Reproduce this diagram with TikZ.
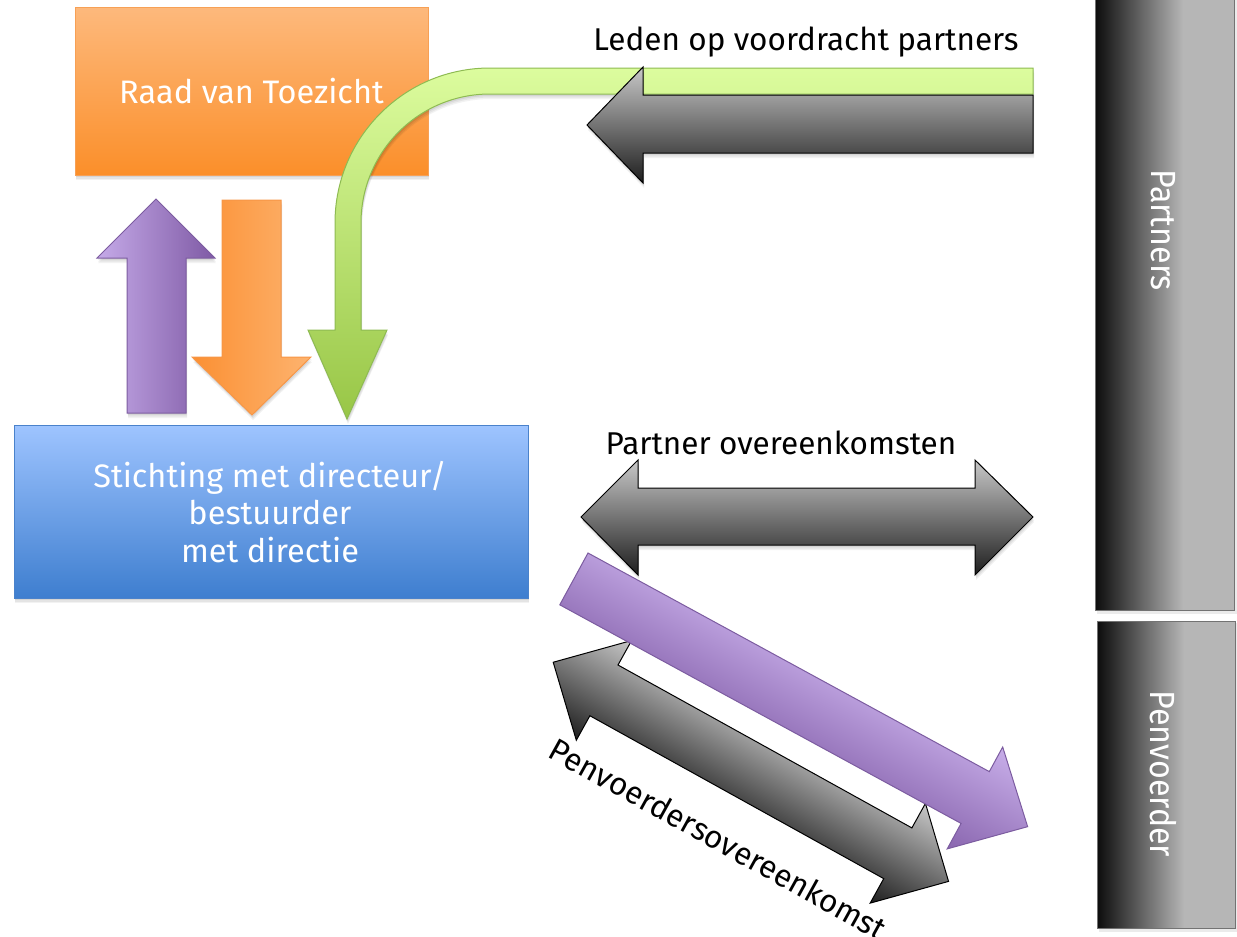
\documentclass[tikz,border=0pt]{standalone}
\usepackage{fontspec}
\setmainfont{Fira Sans}

% colour palette
\definecolor{orgTop}{HTML}{FDB97C}
\definecolor{orgBot}{HTML}{FB8F2A}
\definecolor{orgLine}{HTML}{F7A055}
\definecolor{bluTop}{HTML}{9EC4FF}
\definecolor{bluBot}{HTML}{3E7ECF}
\definecolor{bluLine}{HTML}{4A82CB}
\definecolor{purLight}{HTML}{C5AAE8}
\definecolor{purDark}{HTML}{7F5AA5}
\definecolor{purLine}{HTML}{7C5CA0}
\definecolor{orArrDark}{HTML}{FB9033}
\definecolor{orArrLight}{HTML}{FDB36F}
\definecolor{orArrLine}{HTML}{F79646}
\definecolor{grnTop}{HTML}{DCFC9E}
\definecolor{grnBot}{HTML}{98C646}
\definecolor{grnLine}{HTML}{8EBB52}
\definecolor{gryTop}{HTML}{C8C8C8}
\definecolor{gryMid}{HTML}{8A8A8A}
\definecolor{gryBot}{HTML}{1E1E1E}
\definecolor{barDark}{HTML}{0C0C0C}
\definecolor{barMid}{HTML}{4E4E4E}
\definecolor{barLight}{HTML}{B6B6B6}

\newcommand{\boxfont}{\fontsize{32.5}{37.5}\selectfont}
\newcommand{\labelfont}{\fontsize{31.5}{36}\selectfont}
\newcommand{\sidefont}{\fontsize{35}{35}\selectfont}

\tikzset{
  % soft shadow built from a few faint, slightly offset copies
  softshadow/.style={
    preaction={fill=black, fill opacity=0.05, draw=none,
               transform canvas={xshift=1pt, yshift=-5pt}},
    preaction={fill=black, fill opacity=0.06, draw=none,
               transform canvas={xshift=1pt, yshift=-3.5pt}},
    preaction={fill=black, fill opacity=0.07, draw=none,
               transform canvas={xshift=0.5pt, yshift=-2pt}}},
  boxtext/.style={text=white, font=\boxfont, align=center, inner sep=0pt},
  label/.style={text=black, font=\labelfont, inner sep=0pt},
  greyarrow/.style={top color=gryTop, middle color=gryMid, bottom color=gryBot,
                    draw=black, line width=1pt, line join=miter},
  sideramp/.style={left color=barDark, middle color=barMid, right color=barLight},
  sideframe/.style={draw=black!55, line width=1pt, anchor=north west, inner sep=0pt},
  sidetext/.style={text=white, font=\sidefont, rotate=-90, inner sep=0pt}
}

\begin{document}
\begin{tikzpicture}[x=1pt, y=-1pt]
\useasboundingbox (0,0) rectangle (1237,937);

% ---- boxes ----
\node[softshadow, top color=orgTop, bottom color=orgBot, draw=orgLine, line width=1pt,
      minimum width=353pt, minimum height=168pt, inner sep=0pt]
      (rvt) at (251.5,91) {};
\node[boxtext] (rvttext) at (rvt.center) {Raad van Toezicht};

\node[softshadow, top color=bluTop, bottom color=bluBot, draw=bluLine, line width=1pt,
      minimum width=514pt, minimum height=173pt, inner sep=0pt]
      (stg) at (271,511.5) {};
\node[boxtext] (stgtext) at (270,512)
      {Stichting met directeur/\\bestuurder\\met directie};

% ---- vertical arrows between the boxes ----
\shade[softshadow, left color=purLight, right color=purDark, draw=purLine, line width=1pt]
  (127,413) -- (127,258) -- (97,258) -- (156,199) -- (215,258)
  -- (186,258) -- (186,413) -- cycle;
\shade[softshadow, left color=orArrDark, right color=orArrLight, draw=orArrLine, line width=1pt]
  (222,200) -- (281,200) -- (281,357) -- (311,357) -- (252,415)
  -- (192,357) -- (222,357) -- cycle;

% ---- bent green arrow ----
\shade[softshadow, top color=grnTop, bottom color=grnBot, draw=grnLine, line width=1pt]
  (1033,68) -- (490,68) arc (-90:-180:155) -- (335,330) -- (308,330)
  -- (347,419) -- (387,330) -- (361,330) -- (361,223) arc (-180:-90:129)
  -- (1033,94) -- cycle;

% ---- grey arrow from the partners ----
\shade[softshadow, greyarrow]
  (1033,95) -- (643,95) -- (643,67) -- (587,125) -- (643,183)
  -- (643,153) -- (1033,153) -- cycle;
\node[label] (leden) at (806,42) {Leden op voordracht partners};

% ---- partner agreements ----
\shade[softshadow, greyarrow]
  (581,517) -- (638,460) -- (638,488) -- (975,488) -- (975,460)
  -- (1033,517) -- (975,575) -- (975,545) -- (638,545) -- (638,575) -- cycle;
\node[label] (povk) at (781,443) {Partner overeenkomsten};

% ---- lead partner agreement (diagonal) ----
\begin{scope}[transform canvas={xshift=618pt, yshift=-665pt, rotate=-29}]
  \shade[greyarrow]
    (0,0) -- (336,0) -- (336,-28) -- (394,29) -- (336,86) -- (336,58)
    -- (0,58) -- (0,86) -- (-58,29) -- (0,-28) -- cycle;
  \node[label, anchor=north west] (pvok) at (-18,91) {Penvoerdersovereenkomst};
\end{scope}

\begin{scope}[transform canvas={xshift=588pt, yshift=-553pt, rotate=-28.58}]
  \shade[top color=purLight!95!white, bottom color=purDark!85!purLight,
         draw=purLine, line width=1pt]
    (0,0) -- (457,0) -- (457,-28) -- (517,30) -- (457,88) -- (457,59)
    -- (0,59) -- cycle;
\end{scope}

% ---- side bars: dark-to-light ramp, then flat grey ----
\fill[black, fill opacity=0.08] (1097,0) rectangle (1237,614);
\shade[sideramp] (1095,-2) rectangle (1183,610);
\fill[barLight] (1183,-2) rectangle (1234,610);
\node[sideframe, minimum width=139pt, minimum height=612pt]
  (partners) at (1095,-2) {};
\node[sidetext] (partnerstext) at (1163,230)
  {\scalebox{0.92}[1]{Partners}};

\fill[black, fill opacity=0.08] (1099,623) rectangle (1237,932);
\shade[sideramp] (1097,621) rectangle (1184,928);
\fill[barLight] (1184,621) rectangle (1235,928);
\node[sideframe, minimum width=138pt, minimum height=307pt]
  (penv) at (1097,621) {};
\node[sidetext] (penvtext) at (1163,774)
  {\scalebox{0.92}[1]{Penvoerder}};
\end{tikzpicture}
\end{document}
